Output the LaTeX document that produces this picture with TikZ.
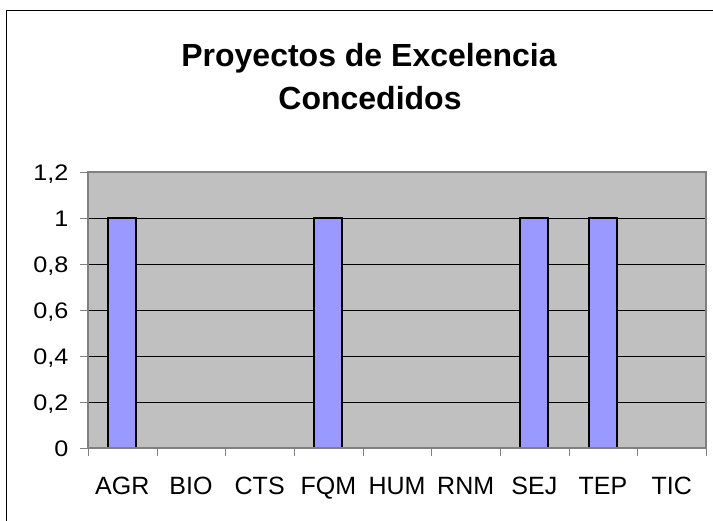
\documentclass[tikz,border=0pt]{standalone}
\usepackage{fontspec}
\setmainfont{Liberation Sans}
\newfontfamily\ylabfont[FakeStretch=1.12]{Liberation Sans}
\definecolor{plotbg}{HTML}{C0C0C0}
\definecolor{barfill}{HTML}{9999FF}
\definecolor{axisgray}{HTML}{808080}
\begin{document}
\begin{tikzpicture}[x=1pt,y=-1pt,
  gridline/.style={black,line width=1pt},
  axisline/.style={axisgray,line width=2pt},
  tickline/.style={axisgray,line width=1pt},
  barbox/.style={fill=barfill,draw=black,line width=2pt},
  ylab/.style={anchor=base east,font=\ylabfont\fontsize{22.5}{27}\selectfont,inner sep=0pt},
  xlab/.style={anchor=base,font=\fontsize{25}{30}\selectfont,inner sep=0pt},
  titletext/.style={anchor=base,inner sep=0pt,font=\bfseries\fontsize{32}{38}\selectfont}]
\useasboundingbox (0,0) rectangle (713,521);
\fill[white] (0,0) rectangle (713,521);
% outer chart frame
\draw[black,line width=1pt] (6.5,521) -- (6.5,10.5) -- (713,10.5);
% title
\node[titletext] (title1) at (369,66.7) {Proyectos de Excelencia};
\node[titletext] (title2) at (370,109.5) {Concedidos};
% plot area
\def\L{88}\def\R{706}\def\T{172.5}\def\B{448.5}
\fill[plotbg] (\L,\T) rectangle (\R,\B);
\foreach \k in {1,...,5} {
  \draw[gridline] (\L,{\B-\k*46}) -- (\R,{\B-\k*46});
}
\draw[axisline] (\L,\B) -- (\L,\T) -- (\R,\T) -- (\R,\B);
% y ticks and labels
\foreach \k/\lab in {0/0,1/{0,2},2/{0,4},3/{0,6},4/{0,8},5/1,6/{1,2}} {
  \draw[tickline] (80,{\B-\k*46}) -- (\L,{\B-\k*46});
  \node[ylab] (y\k) at (68.5,{\B-\k*46+8}) {\lab};
}
% bars
\foreach \xl in {108,314,520,589} {
  \draw[barbox] (\xl,\B) rectangle ({\xl+28},{\B-5*46});
}
% x axis
\draw[axisline] (\L,\B) -- (\R,\B);
\foreach \i in {0,...,9} {
  \draw[tickline] ({round(\L+\i*68.67)+0.5},\B) -- ({round(\L+\i*68.67)+0.5},456);
}
\foreach \i/\lab in {0/AGR,1/BIO,2/CTS,3/FQM,4/HUM,5/RNM,6/SEJ,7/TEP,8/TIC} {
  \node[xlab] (x\i) at ({\L+(\i+0.5)*68.67},495) {\lab};
}
\end{tikzpicture}
\end{document}
